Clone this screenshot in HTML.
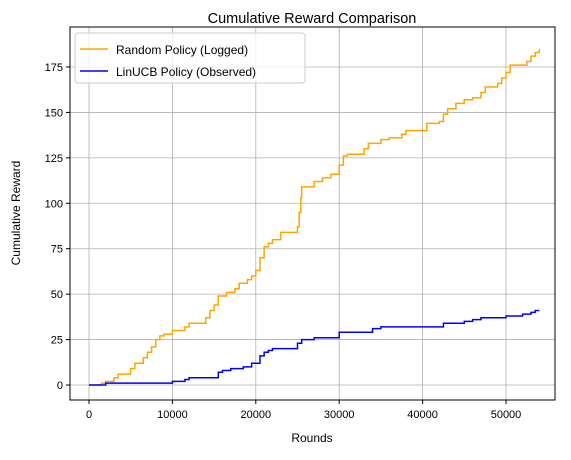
<!DOCTYPE html>
<html><head><meta charset="utf-8"><style>
body{margin:0;background:#fff;}
svg text{font-family:"Liberation Sans","DejaVu Sans",sans-serif;fill:#000;}
</style></head><body>
<svg id="chart" width="571" height="455" xmlns="http://www.w3.org/2000/svg">
<rect width="571" height="455" fill="#fff"/>
<g id="grid"></g>
<g id="series"></g>
<rect x="70" y="27" width="485" height="373" fill="none" stroke="#000" stroke-width="1"/>
<g id="axes"></g>
<text x="312" y="23" text-anchor="middle" font-size="14.5">Cumulative Reward Comparison</text>
<text x="312" y="442" text-anchor="middle" font-size="12">Rounds</text>
<text x="20" y="213" text-anchor="middle" font-size="12" transform="rotate(-90 20 213)">Cumulative Reward</text>
<g>
<rect x="75" y="33" width="230" height="50" rx="3" fill="#fff" fill-opacity="0.8" stroke="#ccc"/>
<g>
<line x1="80" y1="49" x2="108" y2="49" stroke="orange" stroke-width="1.5"/>
<text x="116" y="54" font-size="12">Random Policy (Logged)</text></g>
<g>
<line x1="80" y1="71" x2="108" y2="71" stroke="blue" stroke-width="1.5"/>
<text x="116" y="76" font-size="12">LinUCB Policy (Observed)</text></g>
</g>
</svg>
<script>
const xTicks=[0,10000,20000,30000,40000,50000];
const xTickLabels=["0","10000","20000","30000","40000","50000"];
const yTicks=[0,25,50,75,100,125,150,175];
const randomRounds=[0,1500,2000,3000,3500,5000,5500,6500,7000,7500,8000,8500,9000,10000,11500,12000,14000,14500,15000,15500,16500,17500,18000,19000,19500,20000,20500,21000,21500,22000,23000,25000,25200,25400,25500,27000,28000,29000,30000,30500,31000,33000,33500,35000,36000,37500,38000,40500,42000,42500,43000,44000,45000,46000,47000,47500,49000,49500,50000,50500,52500,53000,53500,54000];
const randomReward=[0,1,2,4,6,9,12,15,18,21,25,27,28,30,32,34,37,41,44,49,51,53,56,58,60,63,70,76,78,80,84,87,95,103,109,112,114,116,121,126,127,130,133,135,136,138,140,144,145,149,152,155,157,158,161,164,166,169,172,176,178,181,183,185];
const linRounds=[0,2000,10000,11500,12000,15500,16000,17000,18500,19500,20500,21000,21500,22000,25000,25500,27000,30000,34000,35000,42500,45000,46000,47000,50000,52000,53000,53500,54000];
const linReward=[0,1,2,3,4,7,8,9,10,12,16,18,19,20,23,25,26,29,31,32,34,35,36,37,38,39,40,41,41];
const X=v=>89+v*(417/50000), Y=v=>385-v*(318/175);
const NS="http://www.w3.org/2000/svg";
const grid=document.getElementById('grid'),axes=document.getElementById('axes'),ser=document.getElementById('series');
function mk(t,a,p){const e=document.createElementNS(NS,t);for(const k in a)e.setAttribute(k,a[k]);p.appendChild(e);return e;}
xTicks.forEach((v,i)=>{
 const g=mk('line',{x1:X(v),x2:X(v),y1:27,y2:400,stroke:'#b0b0b0','stroke-width':0.8},grid);
 
 
 mk('line',{x1:X(v),x2:X(v),y1:400,y2:404,stroke:'#000'},axes);
 const t=mk('text',{x:X(v),y:418,'text-anchor':'middle','font-size':'11'},axes);t.textContent=xTickLabels[i];
 
 
});
yTicks.forEach(v=>{
 const g=mk('line',{x1:70,x2:555,y1:Y(v),y2:Y(v),stroke:'#b0b0b0','stroke-width':0.8},grid);
 
 
 mk('line',{x1:66,x2:70,y1:Y(v),y2:Y(v),stroke:'#000'},axes);
 const t=mk('text',{x:63,y:Y(v)+4,'text-anchor':'end','font-size':'11'},axes);t.textContent=String(v);
 
 
});
function step(xs,ys){let d='M'+X(xs[0])+','+Y(ys[0]);for(let i=1;i<xs.length;i++){d+=' H'+X(xs[i])+' V'+Y(ys[i]);}return d;}
const p1=mk('path',{d:step(randomRounds,randomReward),fill:'none',stroke:'orange','stroke-width':1.5},ser);


const p2=mk('path',{d:step(linRounds,linReward),fill:'none',stroke:'blue','stroke-width':1.5},ser);


</script>
</body></html>
